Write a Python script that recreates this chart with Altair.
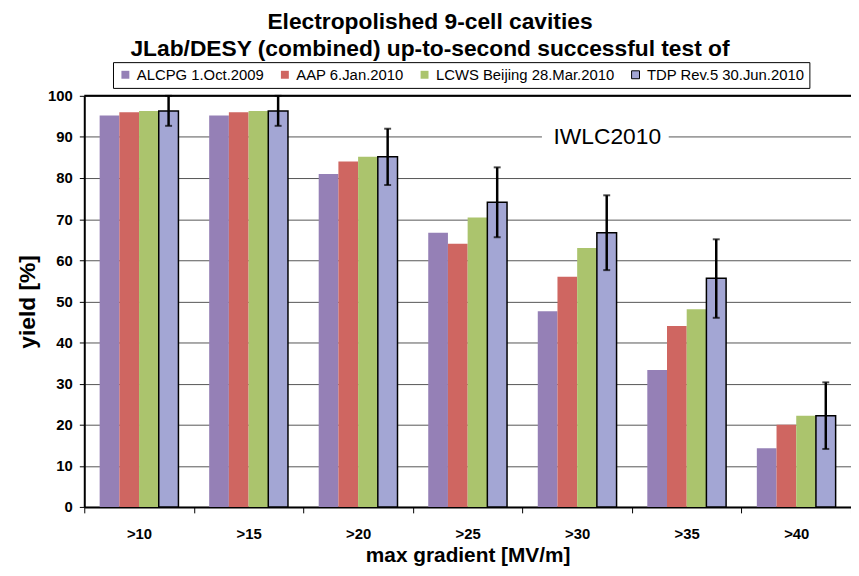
import altair as alt
import pandas as pd

categories = [">10", ">15", ">20", ">25", ">30", ">35", ">40"]
series = ["ALCPG 1.Oct.2009", "AAP 6.Jan.2010", "LCWS Beijing 28.Mar.2010", "TDP Rev.5 30.Jun.2010"]
alcpg = [95.2, 95.2, 81.0, 66.7, 47.6, 33.3, 14.3]
aap = [96.0, 96.0, 84.0, 64.0, 56.0, 44.0, 20.0]
lcws = [96.3, 96.3, 85.2, 70.4, 63.0, 48.1, 22.2]
tdp = [96.3, 96.3, 85.2, 74.1, 66.7, 55.6, 22.2]
err_lo = [92.7, 92.7, 78.3, 65.6, 57.6, 46.0, 14.1]
err_hi = [100.0, 100.0, 92.0, 82.6, 75.8, 65.1, 30.3]
colors = ["#9580B6", "#CF6661", "#ABC46D", "#A3A6D4"]
strokes = ["transparent", "transparent", "transparent", "black"]

rows = []
for s, vals in zip(series, [alcpg, aap, lcws, tdp]):
    for c, v in zip(categories, vals):
        rows.append({"cat": c, "series": s, "yield": v})
df = pd.DataFrame(rows)
err = pd.DataFrame({"cat": categories, "series": series[3], "lo": err_lo, "hi": err_hi})

FONT = "Liberation Sans"
xenc = alt.X("cat:N", sort=categories,
             scale=alt.Scale(paddingInner=0, paddingOuter=0),
             axis=alt.Axis(title="max gradient [MV/m]", labelAngle=0, tickBand="extent",
                           tickSize=6, labelPadding=14, titlePadding=3,
                           labelFontWeight="bold", labelFontSize=15, labelColor="black",
                           titleFontSize=21, titleFontWeight="bold", titleColor="black",
                           domainColor="black", domainWidth=2, tickColor="black",
                           tickWidth=1, labelFont=FONT, titleFont=FONT, grid=False))
xoff = alt.XOffset("series:N", sort=series, scale=alt.Scale(paddingInner=0, paddingOuter=0.78))
yscale = alt.Scale(domain=[0, 100], nice=False)

leg = alt.Legend(title=None, orient="none", direction="horizontal",
                 legendX=29, legendY=-34, strokeColor="black",
                 padding=5, fillColor="white",
                 symbolType="square", symbolSize=64, symbolStrokeWidth=1,
                 labelFont=FONT, labelFontSize=15, labelColor="black", labelLimit=400,
                 columnPadding=13, labelOffset=4)

bars = alt.Chart(df).mark_bar(strokeWidth=1.5).encode(
    x=xenc,
    xOffset=xoff,
    y=alt.Y("yield:Q", scale=yscale,
            axis=alt.Axis(title="yield [%]", values=list(range(0, 101, 10)), tickSize=5,
                          labelPadding=7, titlePadding=8,
                          labelFontWeight="bold", labelFontSize=15, labelColor="black",
                          titleFontSize=23, titleFontWeight="bold", titleColor="black",
                          domainColor="black", domainWidth=2, tickColor="black",
                          gridColor="#555555", gridWidth=1,
                          labelFont=FONT, titleFont=FONT)),
    fill=alt.Fill("series:N", sort=series, scale=alt.Scale(domain=series, range=colors), legend=leg),
    stroke=alt.Stroke("series:N", sort=series, scale=alt.Scale(domain=series, range=strokes), legend=leg),
)

errbar = alt.Chart(err).mark_rule(color="black", strokeWidth=2.5).encode(
    x=alt.X("cat:N", sort=categories), xOffset=alt.XOffset("series:N", sort=series),
    y=alt.Y("lo:Q", scale=yscale), y2="hi:Q")
cap_lo = alt.Chart(err).mark_tick(color="black", thickness=2, size=7, orient="horizontal").encode(
    x=alt.X("cat:N", sort=categories), xOffset=alt.XOffset("series:N", sort=series),
    y=alt.Y("lo:Q", scale=yscale))
cap_hi = alt.Chart(err).mark_tick(color="black", thickness=2, size=7, orient="horizontal").encode(
    x=alt.X("cat:N", sort=categories), xOffset=alt.XOffset("series:N", sort=series),
    y=alt.Y("hi:Q", scale=yscale))

label_bg = alt.Chart(pd.DataFrame({"t": ["IWLC2010"]})).mark_rect(color="white").encode(
    x=alt.value(462), x2=alt.value(590), y=alt.value(31), y2=alt.value(53))
label = alt.Chart(pd.DataFrame({"t": ["IWLC2010"]})).mark_text(
    font=FONT, fontSize=23, color="black", align="center", baseline="middle").encode(
    text="t:N", x=alt.value(528), y=alt.value(42))

top_line = alt.Chart(pd.DataFrame({"v": [100]})).mark_rule(color="black", strokeWidth=2).encode(
    y=alt.Y("v:Q", scale=yscale))

chart = alt.layer(bars, errbar, cap_lo, cap_hi, label_bg, label, top_line).properties(
    width=774, height=415,
    padding={"left": 77, "top": 86, "right": 0, "bottom": 59},
    autosize=alt.AutoSizeParams(type="none"),
    title=alt.TitleParams(text=["Electropolished 9-cell cavities",
                                "JLab/DESY (combined) up-to-second successful test of"],
                          font=FONT, fontSize=23, fontWeight="bold", color="black",
                          anchor="middle", dx=-38, offset=1, lineHeight=27),
).configure_view(stroke=None).configure(background="white")

chart.save("out.html", embed_options={"renderer": "svg", "actions": False})
